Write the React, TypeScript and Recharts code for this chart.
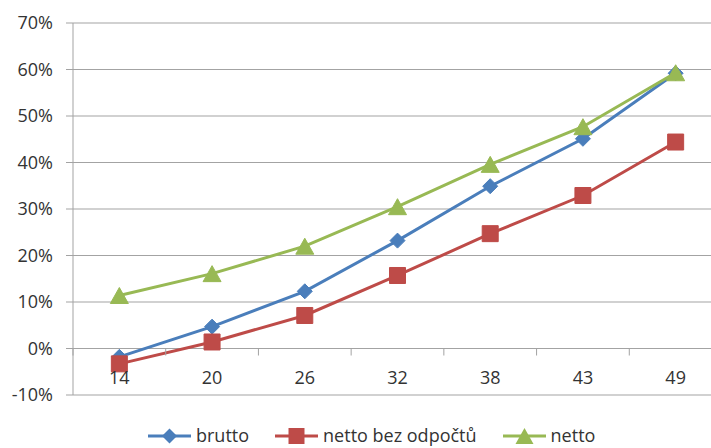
import React from 'react';
import {
  LineChart,
  Line,
  XAxis,
  YAxis,
  CartesianGrid,
  Legend,
  ReferenceLine,
} from 'recharts';

// Category labels and the three series (shares, 0.1 = 10 %)
const categories = ['14', '20', '26', '32', '38', '43', '49'];
const brutto = [-0.018, 0.047, 0.123, 0.232, 0.349, 0.451, 0.592];
const nettoBezOdpoctu = [-0.033, 0.014, 0.071, 0.157, 0.247, 0.329, 0.444];
const netto = [0.114, 0.161, 0.22, 0.305, 0.396, 0.477, 0.593];
const yTicks = [-0.1, 0, 0.1, 0.2, 0.3, 0.4, 0.5, 0.6, 0.7];

const Y_MIN = -0.1;
const Y_MAX = 0.7;

const data = categories.map((c, i) => ({
  cat: c,
  brutto: brutto[i],
  nettoBez: nettoBezOdpoctu[i],
  netto: netto[i],
}));

// Layout
const CHART_W = 730;
const CHART_H = 448;
const MARGIN = { top: 23, right: 8, bottom: 0, left: 0 };
const Y_AXIS_W = 73;
const X_AXIS_H = 27;
const LEGEND_H = 26;
const PLOT_W = CHART_W - MARGIN.left - MARGIN.right - Y_AXIS_W;
const PLOT_H = CHART_H - MARGIN.top - MARGIN.bottom - X_AXIS_H - LEGEND_H;
const BAND = PLOT_W / categories.length;
const ZERO_FROM_BOTTOM = (PLOT_H * (0 - Y_MIN)) / (Y_MAX - Y_MIN);

const FONT = "'Open Sans', sans-serif";
const TEXT = '#333333';
const GRID = '#a3a3a3';

const BLUE = '#4a7ebb';
const RED = '#be4b48';
const GREEN = '#98b954';

type Shape = 'diamond' | 'square' | 'triangle';

function markerPath(shape: Shape, cx: number, cy: number): string {
  if (shape === 'diamond') {
    const s = 7.5;
    return `M${cx},${cy - s}L${cx + s},${cy}L${cx},${cy + s}L${cx - s},${cy}Z`;
  }
  if (shape === 'square') {
    const s = 8;
    return `M${cx - s},${cy - s}H${cx + s}V${cy + s}H${cx - s}Z`;
  }
  const w = 9;
  const h = 8;
  return `M${cx},${cy - h}L${cx + w},${cy + h}L${cx - w},${cy + h}Z`;
}

const makeDot = (shape: Shape, color: string) => (props: any) => {
  const { cx, cy, index } = props;
  if (cx == null || cy == null) return <g key={`d-${index}`} />;
  return <path key={`d-${shape}-${index}`} d={markerPath(shape, cx, cy)} fill={color} stroke={color} strokeWidth={1} />;
};

// Category labels sit just under the zero line, with tick marks between categories
const CategoryTick = (props: any) => {
  const { x, y, payload } = props;
  const zeroY = y - ZERO_FROM_BOTTOM;
  const bx = x - BAND / 2;
  return (
    <g>
      <line x1={bx} y1={zeroY} x2={bx} y2={zeroY + 7} stroke={GRID} strokeWidth={1} />
      <text
        x={x}
        y={zeroY + 29}
        dy="0.35em"
        textAnchor="middle"
        fill={TEXT}
        fontSize={18}
        fontFamily={FONT}
      >
        {payload.value}
      </text>
    </g>
  );
};

const legendItems: { label: string; color: string; shape: Shape }[] = [
  { label: 'brutto', color: BLUE, shape: 'diamond' },
  { label: 'netto bez odpočtů', color: RED, shape: 'square' },
  { label: 'netto', color: GREEN, shape: 'triangle' },
];

const LegendContent = () => (
  <div
    style={{
      height: LEGEND_H,
      display: 'flex',
      alignItems: 'center',
      paddingLeft: 148,
      fontFamily: FONT,
      fontSize: 18,
      color: TEXT,
      lineHeight: 1.2,
    }}
  >
    {legendItems.map((it) => (
      <div key={it.label} style={{ display: 'flex', alignItems: 'center', marginRight: 26 }}>
        <svg width={43} height={20} style={{ display: 'block' }}>
          <line x1={0} y1={10} x2={43} y2={10} stroke={it.color} strokeWidth={3} />
          <path d={markerPath(it.shape, 21.5, 10)} fill={it.color} />
        </svg>
        <span style={{ marginLeft: 5, whiteSpace: 'nowrap' }}>{it.label}</span>
      </div>
    ))}
  </div>
);

export default function App() {
  return (
    <div
      style={{
        position: 'absolute',
        left: 0,
        top: 0,
        width: 711,
        height: 448,
        overflow: 'hidden',
        background: '#ffffff',
      }}
    >
      <LineChart width={CHART_W} height={CHART_H} data={data} margin={MARGIN}>
        <CartesianGrid vertical={false} stroke={GRID} strokeWidth={1} />
        <XAxis
          dataKey="cat"
          height={X_AXIS_H}
          axisLine={false}
          tickLine={false}
          tickSize={0}
          tickMargin={0}
          interval={0}
          padding={{ left: BAND / 2, right: BAND / 2 }}
          tick={<CategoryTick />}
        />
        <YAxis
          width={Y_AXIS_W}
          domain={[Y_MIN, Y_MAX]}
          ticks={yTicks}
          interval={0}
          allowDataOverflow
          axisLine={{ stroke: GRID, strokeWidth: 1 }}
          tickLine={{ stroke: GRID, strokeWidth: 1 }}
          tickSize={7}
          tickMargin={13}
          tick={{ fill: TEXT, fontSize: 18, fontFamily: FONT }}
          tickFormatter={(v: number) => `${Math.round(v * 100)}%`}
        />
        <ReferenceLine y={0} stroke={GRID} strokeWidth={1} />
        <Line
          dataKey="brutto"
          stroke={BLUE}
          strokeWidth={3}
          dot={makeDot('diamond', BLUE)}
          activeDot={false}
          isAnimationActive={false}
        />
        <Line
          dataKey="nettoBez"
          stroke={RED}
          strokeWidth={3}
          dot={makeDot('square', RED)}
          activeDot={false}
          isAnimationActive={false}
        />
        <Line
          dataKey="netto"
          stroke={GREEN}
          strokeWidth={3}
          dot={makeDot('triangle', GREEN)}
          activeDot={false}
          isAnimationActive={false}
        />
        <Legend
          verticalAlign="bottom"
          align="left"
          wrapperStyle={{ bottom: -1 }}
          content={<LegendContent />}
        />
      </LineChart>
    </div>
  );
}
